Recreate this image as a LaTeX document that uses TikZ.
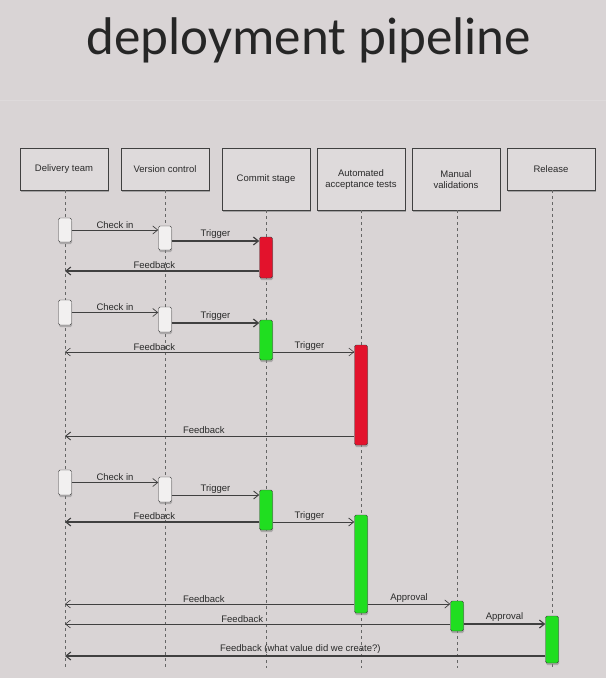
\documentclass[tikz,border=0pt]{standalone}
\usepackage{fontspec}
\setmainfont{Liberation Sans}
\newfontfamily\titlefont{Carlito}
\usetikzlibrary{shadows,arrows.meta,calc}
\definecolor{bg}{HTML}{D9D4D5}
\definecolor{headfill}{HTML}{DEDADB}
\definecolor{ink}{HTML}{2A2A2A}
\definecolor{actred}{HTML}{E3122C}
\definecolor{actgreen}{HTML}{20DE20}
\definecolor{actwhite}{HTML}{F2F0F0}
\begin{document}
\begin{tikzpicture}[x=1pt,y=-1pt,
  head/.style={draw=black!75, fill=headfill, minimum width=88, minimum height=42, anchor=north,
    align=center, inner sep=1pt, text=ink, font=\fontsize{9.5}{11}\selectfont,
    drop shadow={shadow xshift=1pt, shadow yshift=-2pt, opacity=0.6}},
  tall/.style={minimum height=62},
  act/.style={draw=black!75, minimum width=13, inner sep=0pt, rounded corners=1.5pt,
    drop shadow={shadow xshift=0.5pt, shadow yshift=-2pt, opacity=0.5}},
  wht/.style={act, fill=actwhite},
  red/.style={act, fill=actred},
  grn/.style={act, fill=actgreen},
  life/.style={draw=black!60, dashed, dash pattern=on 3pt off 3pt, line width=0.7pt},
  msg/.style={draw=black!75, line width=0.9pt, -{Straight Barb[length=5pt,width=8pt]}},
  lbl/.style={text=ink, font=\fontsize{9.5}{11}\selectfont, inner sep=1.5pt}
]
\fill[bg] (0,0) rectangle (606,678);
\useasboundingbox (0,0) rectangle (606,678);
\draw[white!14!bg, line width=1pt] (0,100) -- (606,100);

\node[font=\titlefont\fontsize{53}{60}\selectfont, text=black!85, anchor=base] (title) at (309,54) {deployment pipeline};

% headers
\node[head] (h1) at (64,148) {Delivery team};
\node[head] (h2) at (165,148) {Version control};
\node[head, tall] (h3) at (266,148) {Commit stage};
\node[head, tall] (h4) at (361,148) {Automated\\acceptance tests};
\node[head, tall] (h5) at (456,148) {Manual\\validations};
\node[head] (h6) at (551,148) {Release};

% lifeline ends
\coordinate (e1) at (65,668);
\coordinate (e2) at (165,668);
\coordinate (e3) at (266,668);
\coordinate (e4) at (361,668);
\coordinate (e5) at (457,668);
\coordinate (e6) at (552,668);
\draw[life] (h1.south -| e1) -- (e1);
\draw[life] (h2.south -| e2) -- (e2);
\draw[life] (h3.south -| e3) -- (e3);
\draw[life] (h4.south -| e4) -- (e4);
\draw[life] (h5.south -| e5) -- (e5);
\draw[life] (h6.south -| e6) -- (e6);

% sequence 1
\node[wht, minimum height=24] (dt1) at (65,230) {};
\node[wht, minimum height=24] (vc1) at (165,238) {};
\node[red, minimum height=41] (c1) at (266,257.5) {};
\coordinate (t1) at (0,241);
\coordinate (f1) at (0,271);
\draw[msg, line width=0.7pt] (dt1.east) -- node[lbl, above, pos=0.5] {Check in} (dt1.east -| vc1.west);
\draw[msg, line width=1.2pt] (vc1.east |- t1) -- node[lbl, above, pos=0.5] {Trigger} (c1.west |- t1);
\draw[msg, line width=1.1pt] (c1.west |- f1) -- node[lbl, above, pos=0.54] {Feedback} (e1 |- f1);

% sequence 2
\node[wht, minimum height=25] (dt2) at (65,312.5) {};
\node[wht, minimum height=25] (vc2) at (165,319.5) {};
\node[grn, minimum height=40] (c2) at (266,340) {};
\node[red, minimum height=100] (a2) at (361,395) {};
\coordinate (t2) at (0,323);
\coordinate (f2) at (0,352);
\coordinate (f2b) at (0,436);
\draw[msg, line width=0.7pt] (dt2.east) -- node[lbl, above, pos=0.5] {Check in} (dt2.east -| vc2.west);
\draw[msg, line width=1.2pt] (vc2.east |- t2) -- node[lbl, above, pos=0.5] {Trigger} (c2.west |- t2);
\draw[msg, line width=0.6pt] (c2.west |- f2) -- node[lbl, above, pos=0.54] {Feedback} (e1 |- f2);
\draw[msg, line width=0.6pt] (c2.east |- f2) -- node[lbl, above, pos=0.45] {Trigger} (a2.west |- f2);
\draw[msg, line width=0.9pt] (a2.west |- f2b) -- node[lbl, above, pos=0.52] {Feedback} (e1 |- f2b);

% sequence 3
\node[wht, minimum height=25] (dt3) at (65,482.5) {};
\node[wht, minimum height=25] (vc3) at (165,489.5) {};
\node[grn, minimum height=40] (c3) at (266,510) {};
\node[grn, minimum height=98] (a3) at (361,564) {};
\node[grn, minimum height=30] (m3) at (457,616) {};
\node[grn, minimum height=47] (r3) at (552,639.5) {};
\coordinate (t3) at (0,495);
\coordinate (f3) at (0,522);
\coordinate (f3b) at (0,604);
\coordinate (f3c) at (0,624);
\coordinate (f3d) at (0,656);
\draw[msg, line width=0.7pt] (dt3.east) -- node[lbl, above, pos=0.5] {Check in} (dt3.east -| vc3.west);
\draw[msg, line width=0.9pt] (vc3.east |- t3) -- node[lbl, above, pos=0.5] {Trigger} (c3.west |- t3);
\draw[msg, line width=1.1pt] (c3.west |- f3) -- node[lbl, above, pos=0.54] {Feedback} (e1 |- f3);
\draw[msg, line width=0.8pt] (c3.east |- f3) -- node[lbl, above, pos=0.45] {Trigger} (a3.west |- f3);
\draw[msg, line width=0.6pt] (a3.west |- f3b) -- node[lbl, above, pos=0.52] {Feedback} (e1 |- f3b);
\draw[msg, line width=0.7pt] (a3.east |- f3b) -- node[lbl, above, pos=0.5] {Approval} (m3.west |- f3b);
\draw[msg, line width=0.6pt] (m3.west |- f3c) -- node[lbl, above, pos=0.54] {Feedback} (e1 |- f3c);
\draw[msg, line width=1.1pt] (m3.east |- f3c) -- node[lbl, above, pos=0.5] {Approval} (r3.west |- f3c);
\draw[msg, line width=1.1pt] (r3.west |- f3d) -- node[lbl, above, pos=0.51] {Feedback (what value did we create?)} (e1 |- f3d);
\end{tikzpicture}
\end{document}
